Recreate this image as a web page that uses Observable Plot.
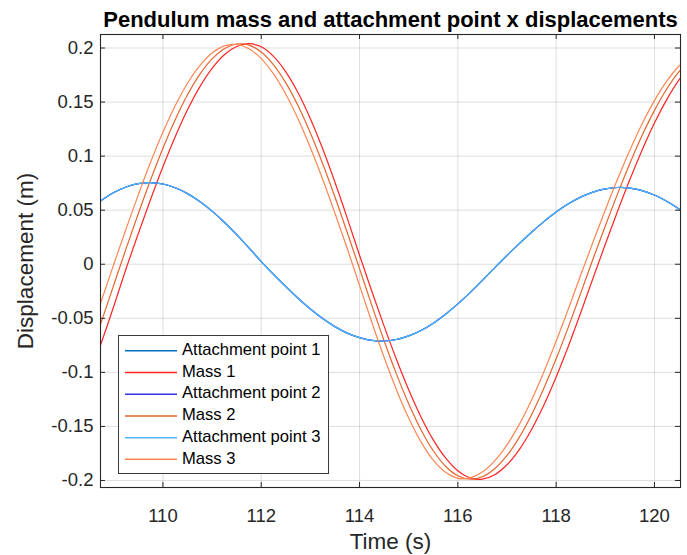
<!DOCTYPE html>
<html>
<head>
<meta charset="utf-8">
<script src="https://cdn.jsdelivr.net/npm/d3@7"></script>
<script src="https://cdn.jsdelivr.net/npm/@observablehq/plot@0.6"></script>
<style>
  body { margin: 0; background: #fff; }
  #wrap { position: relative; width: 687px; height: 555px; font-family: "Liberation Sans", Arial, sans-serif; }
  #legend { position: absolute; left: 118px; top: 335px; width: 211px; height: 139px; box-sizing: border-box;
            border: 1.3px solid #3a3a3a; background: #fff; }
  #legend svg { position: absolute; left: 0; top: 0; }
  .lab { position: absolute; left: 63px; line-height: 21.7px; height: 21.7px; font-size: 16.6px; color: #000; white-space: nowrap; }
</style>
</head>
<body>
<div id="wrap"></div>
<script>
// ---- data ----
const titleText = "Pendulum mass and attachment point x displacements";
const xLabel = "Time (s)";
const yLabel = "Displacement (m)";

const xTicks = [110, 112, 114, 116, 118, 120];
const xTickLabels = ["110", "112", "114", "116", "118", "120"];
const yTicks = [-0.2, -0.15, -0.1, -0.05, 0, 0.05, 0.1, 0.15, 0.2];
const yTickLabels = ["-0.2", "-0.15", "-0.1", "-0.05", "0", "0.05", "0.1", "0.15", "0.2"];

const time = [108.5,108.75,109,109.25,109.5,109.75,110,110.25,110.5,110.75,
  111,111.25,111.5,111.75,112,112.25,112.5,112.75,113,113.25,
  113.5,113.75,114,114.25,114.5,114.75,115,115.25,115.5,115.75,
  116,116.25,116.5,116.75,117,117.25,117.5,117.75,118,118.25,
  118.5,118.75,119,119.25,119.5,119.75,120,120.25,120.5,120.75];

// attachment points 1, 2 and 3 coincide (only the last one drawn is visible)
const attachment = [0.0502,0.0591,0.0663,0.0715,0.0746,0.0755,0.0742,0.0707,0.0653,0.0580,
  0.0491,0.0388,0.0274,0.0152,0.0025,-0.0093,-0.0206,-0.0314,-0.0414,-0.0502,
  -0.0577,-0.0637,-0.0679,-0.0704,-0.0710,-0.0696,-0.0663,-0.0613,-0.0545,-0.0462,
  -0.0367,-0.0262,-0.0149,-0.0033,0.0081,0.0191,0.0296,0.0394,0.0483,0.0559,
  0.0621,0.0667,0.0697,0.0710,0.0704,0.0681,0.0640,0.0582,0.0510,0.0425];

const mass1 = [-0.1036,-0.0722,-0.0388,-0.0042,0.0284,0.0601,0.0902,0.1180,0.1429,0.1641,
  0.1812,0.1938,0.2014,0.2040,0.2011,0.1923,0.1780,0.1586,0.1346,0.1068,
  0.0758,0.0427,0.0083,-0.0250,-0.0572,-0.0879,-0.1161,-0.1412,-0.1624,-0.1791,
  -0.1910,-0.1976,-0.1988,-0.1947,-0.1855,-0.1715,-0.1529,-0.1303,-0.1043,-0.0756,
  -0.0448,-0.0129,0.0185,0.0490,0.0783,0.1057,0.1306,0.1523,0.1705,0.1845];

const mass2 = [-0.0850,-0.0528,-0.0192,0.0144,0.0469,0.0781,0.1073,0.1337,0.1567,0.1756,
  0.1899,0.1994,0.2037,0.2027,0.1963,0.1845,0.1678,0.1466,0.1214,0.0930,
  0.0622,0.0294,-0.0041,-0.0380,-0.0707,-0.1014,-0.1290,-0.1530,-0.1725,-0.1868,
  -0.1956,-0.1988,-0.1965,-0.1891,-0.1769,-0.1601,-0.1392,-0.1147,-0.0875,-0.0579,
  -0.0267,0.0049,0.0354,0.0651,0.0932,0.1192,0.1423,0.1621,0.1781,0.1899];

const mass3 = [-0.0661,-0.0335,0,0.0326,0.0644,0.0945,0.1221,0.1466,0.1674,0.1837,
  0.1954,0.2020,0.2033,0.1994,0.1902,0.1760,0.1572,0.1343,0.1078,0.0786,
  0.0471,0.0145,-0.0195,-0.0536,-0.0861,-0.1160,-0.1423,-0.1643,-0.1812,-0.1925,
  -0.1980,-0.1976,-0.1922,-0.1819,-0.1671,-0.1481,-0.1255,-0.0996,-0.0713,-0.0412,
  -0.0100,0.0205,0.0502,0.0788,0.1055,0.1299,0.1513,0.1693,0.1834,0.1933];

const seriesNames = ["Attachment point 1", "Mass 1", "Attachment point 2", "Mass 2", "Attachment point 3", "Mass 3"];
const seriesValues = [attachment, mass1, attachment, mass2, attachment, mass3];
const seriesColors = ["#0072BD", "#FF2424", "#3232E6", "#E6642E", "#4DB8F8", "#FF8652"];

// ---- layout ----
const W = 687, H = 555;
const mL = 100, mR = 7, mT = 34, mB = 68;
const frameW = W - mL - mR, frameH = H - mT - mB;
const axisColor = "#262626";

const lineMarks = seriesValues.map((vals, k) =>
  Plot.line(time.map((t, i) => ({t, v: vals[i]})), {
    x: "t", y: "v", stroke: seriesColors[k], strokeWidth: 1.2, curve: "catmull-rom", clip: true
  })
);

const chart = Plot.plot({
  width: W, height: H,
  marginLeft: mL, marginRight: mR, marginTop: mT, marginBottom: mB,
  style: { fontFamily: '"Liberation Sans", Arial, sans-serif', fontSize: "18.5px", color: axisColor, background: "#fff", overflow: "visible" },
  x: { domain: [108.73, 120.53] },
  y: { domain: [-0.2065, 0.2125] },
  marks: [
    Plot.gridX({ ticks: xTicks, stroke: axisColor, strokeOpacity: 0.15, strokeWidth: 1 }),
    Plot.gridY({ ticks: yTicks, stroke: axisColor, strokeOpacity: 0.15, strokeWidth: 1 }),
    ...lineMarks,
    Plot.tickX(xTicks, { x: d => d, insetTop: frameH - 5, stroke: axisColor }),
    Plot.tickX(xTicks, { x: d => d, insetBottom: frameH - 5, stroke: axisColor }),
    Plot.tickY(yTicks, { y: d => d, insetRight: frameW - 5, stroke: axisColor }),
    Plot.tickY(yTicks, { y: d => d, insetLeft: frameW - 5, stroke: axisColor }),
    Plot.frame({ stroke: axisColor, strokeWidth: 1.1 }),
    Plot.axisX({ ticks: xTicks, tickSize: 0, tickPadding: 21, tickFormat: d => xTickLabels[xTicks.indexOf(d)], label: null, fill: axisColor }),
    Plot.axisY({ ticks: yTicks, tickSize: 0, tickPadding: 7, tickFormat: d => yTickLabels[yTicks.indexOf(d)], label: null, fill: axisColor }),
    Plot.text([xLabel], { text: d => d, frameAnchor: "bottom", textAnchor: "middle", lineAnchor: "middle", dy: 54, fontSize: 22.5, fill: axisColor }),
    Plot.text([yLabel], { text: d => d, frameAnchor: "left", textAnchor: "middle", lineAnchor: "middle", dx: -75, rotate: -90, fontSize: 22.5, fill: axisColor }),
    Plot.text([titleText], { text: d => d, frameAnchor: "top", textAnchor: "middle", lineAnchor: "middle", dy: -15, fontSize: 22, fontWeight: "bold", fill: "#000" })
  ]
});

const wrap = document.getElementById("wrap");
wrap.appendChild(chart);

// legend
const rowH = 21.7, rowTop = 4;
const legend = document.createElement("div");
legend.id = "legend";
const NS = "http://www.w3.org/2000/svg";
const lsvg = document.createElementNS(NS, "svg");
lsvg.setAttribute("width", 208);
lsvg.setAttribute("height", 136);
seriesNames.forEach((name, k) => {
  const yc = rowTop + k * rowH + rowH / 2;
  const ln = document.createElementNS(NS, "line");
  ln.setAttribute("x1", 6); ln.setAttribute("x2", 58);
  ln.setAttribute("y1", yc); ln.setAttribute("y2", yc);
  ln.setAttribute("stroke", seriesColors[k]);
  ln.setAttribute("stroke-width", 1.5);
  lsvg.appendChild(ln);
  const l = document.createElement("div");
  l.className = "lab";
  l.style.top = (rowTop + k * rowH - 1) + "px";
  l.textContent = name;
  legend.appendChild(l);
});
legend.appendChild(lsvg);
wrap.appendChild(legend);
</script>
</body>
</html>
